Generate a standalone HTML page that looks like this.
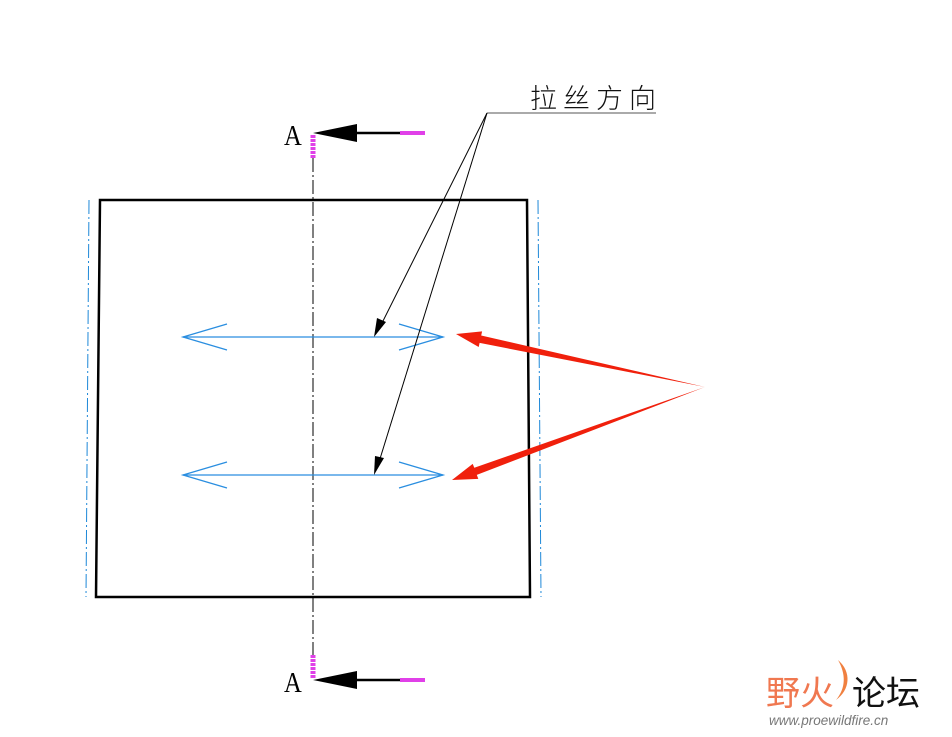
<!DOCTYPE html>
<html><head><meta charset="utf-8"><style>html,body{margin:0;padding:0;background:#fff}svg{display:block}</style></head>
<body>
<svg width="952" height="737" viewBox="0 0 952 737" xmlns="http://www.w3.org/2000/svg">
<polygon points="100,200 527,200 530,597 96,597" fill="none" stroke="#000" stroke-width="2.5"/>
<line x1="313" y1="158" x2="313" y2="655" stroke="#000" stroke-width="1" stroke-dasharray="14,3,2,3"/>
<line x1="89" y1="200" x2="86" y2="597" stroke="#1e88d8" stroke-width="1" stroke-dasharray="14,3,2,3"/>
<line x1="538" y1="200" x2="541" y2="597" stroke="#1e88d8" stroke-width="1" stroke-dasharray="14,3,2,3"/>
<text x="284" y="145" font-family="Liberation Serif, serif" font-size="29" transform="translate(284 145) scale(0.85 1) translate(-284 -145)" fill="#000">A</text>
<line x1="313" y1="135" x2="313" y2="159" stroke="#e040e8" stroke-width="5" stroke-dasharray="3,1"/>
<polygon points="313,133 357,124 357,142" fill="#000"/>
<line x1="355" y1="133" x2="400" y2="133" stroke="#000" stroke-width="2.5"/>
<line x1="400" y1="133" x2="425" y2="133" stroke="#e040e8" stroke-width="4"/>
<text x="284" y="692" font-family="Liberation Serif, serif" font-size="29" transform="translate(284 692) scale(0.85 1) translate(-284 -692)" fill="#000">A</text>
<line x1="313" y1="655" x2="313" y2="679" stroke="#e040e8" stroke-width="5" stroke-dasharray="3,1"/>
<polygon points="313,680 357,671 357,689" fill="#000"/>
<line x1="355" y1="680" x2="400" y2="680" stroke="#000" stroke-width="2.5"/>
<line x1="400" y1="680" x2="425" y2="680" stroke="#e040e8" stroke-width="4"/>
<g stroke="#2a8ee0" stroke-width="1.3" fill="none">
<line x1="183" y1="337" x2="443" y2="337"/>
<polyline points="227,324 183,337 227,350"/>
<polyline points="399,324 443,337 399,350"/>
<line x1="183" y1="475" x2="443" y2="475"/>
<polyline points="227,462 183,475 227,488"/>
<polyline points="399,462 443,475 399,488"/>
</g>
<text x="530" y="108" font-family="Liberation Sans, Noto Sans CJK SC, sans-serif" font-weight="300" font-size="27" letter-spacing="6" fill="#111">拉丝方向</text>
<line x1="487" y1="113" x2="656" y2="113" stroke="#555" stroke-width="1"/>
<line x1="487" y1="113" x2="381" y2="325" stroke="#000" stroke-width="1"/>
<line x1="487" y1="113" x2="379" y2="462" stroke="#000" stroke-width="1"/>
<polygon points="374,337 377,318 386,322" fill="#000"/>
<polygon points="374,475 375,456 384,458" fill="#000"/>
<polygon points="705,387 481.2,335.5 482.1,331.4 456,334 478.7,347 479.6,342.9" fill="#f0200c"/>
<polygon points="705,387 474.3,467.8 472.7,463.9 452,480 478.3,478.9 476.8,474.9" fill="#f0200c"/>
<text x="766" y="705" font-family="Liberation Sans, Noto Sans CJK SC, sans-serif" font-size="34" fill="#f07850">野</text>
<text x="800" y="705" font-family="Liberation Sans, Noto Sans CJK SC, sans-serif" font-size="34" fill="#f07850">火</text>
<path d="M838,660 C852,672 850,690 836,700 C846,688 846,674 838,660Z" fill="#f08040"/>
<text x="852" y="705" font-family="Liberation Sans, Noto Sans CJK SC, sans-serif" font-size="34" fill="#111">论坛</text>
<text x="769" y="725" font-family="Liberation Sans, sans-serif" font-style="italic" font-size="13.5" fill="#777">www.proewildfire.cn</text>
</svg>
</body></html>
